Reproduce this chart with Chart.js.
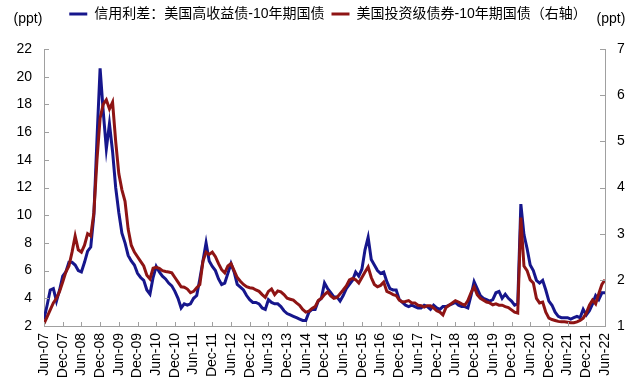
<!DOCTYPE html>
<html>
<head>
<meta charset="utf-8">
<script src="https://cdn.jsdelivr.net/npm/chart.js@4.4.1/dist/chart.umd.min.js"></script>
<style>
html,body{margin:0;padding:0;background:#fff;}
#wrap{position:relative;width:640px;height:387px;}
</style>
</head>
<body>
<div id="wrap"><canvas id="c" width="640" height="387"></canvas></div>
<script>
// x tick labels every 6 months from Jun-07 to Jun-22
const xTickLabels = ['Jun-07','Dec-07','Jun-08','Dec-08','Jun-09','Dec-09','Jun-10','Dec-10','Jun-11','Dec-11',
  'Jun-12','Dec-12','Jun-13','Dec-13','Jun-14','Dec-14','Jun-15','Dec-15','Jun-16','Dec-16',
  'Jun-17','Dec-17','Jun-18','Dec-18','Jun-19','Dec-19','Jun-20','Dec-20','Jun-21','Dec-21','Jun-22'];

const seriesNames = ['信用利差：美国高收益债-10年期国债', '美国投资级债券-10年期国债（右轴）'];

// Monthly values, month 0 = Jun-07 ... month 180 = Jun-22 (ppt)
const hyValues = [
  2.5, 3.5, 4.6, 4.7, 3.8, 4.6, 5.6, 5.9, 6.6, 6.6,
  6.4, 6.0, 5.9, 6.6, 7.4, 7.7, 10.0, 15.5, 20.6, 17.5,
  14.8, 16.6, 14.6, 12.0, 10.2, 8.7, 8.0, 7.1, 6.7, 6.4,
  5.8, 5.5, 5.3, 4.6, 4.3, 5.5, 6.3, 5.9, 5.6, 5.4,
  5.1, 4.9, 4.5, 4.0, 3.3, 3.6, 3.5, 3.6, 4.0, 4.2,
  5.4, 6.7, 8.0, 6.7, 6.3, 6.0, 5.4, 5.0, 5.1, 5.8,
  6.5, 5.9, 5.0, 4.8, 4.6, 4.2, 3.9, 3.7, 3.7, 3.6,
  3.3, 3.2, 3.9, 3.7, 3.6, 3.6, 3.4, 3.1, 2.9, 2.8,
  2.7, 2.6, 2.5, 2.4, 2.4, 3.0, 3.2, 3.2, 3.8, 4.0,
  5.1, 4.7, 4.4, 4.1, 4.1, 3.8, 4.2, 4.7, 5.0, 5.3,
  5.9, 5.6, 6.1, 7.5, 8.4, 6.8, 6.4, 6.0, 5.8, 5.9,
  5.2, 4.7, 4.6, 4.6, 3.9, 3.7, 3.5, 3.4, 3.5, 3.4,
  3.3, 3.3, 3.5, 3.4, 3.2, 3.5, 3.3, 3.2, 3.4, 3.4,
  3.5, 3.6, 3.7, 3.5, 3.4, 3.4, 3.3, 4.2, 5.2, 4.7,
  4.2, 4.0, 3.9, 3.8, 3.9, 4.4, 4.5, 4.0, 4.3, 4.0,
  3.8, 3.5, 3.6, 10.8, 8.6, 7.6, 6.4, 6.0, 5.3, 5.1,
  5.3, 4.6, 3.8, 3.5, 3.0, 2.7, 2.6, 2.6, 2.6, 2.5,
  2.6, 2.7, 2.6, 3.2, 2.8, 3.1, 3.6, 4.2, 3.9, 4.4,
  4.4
];

const igValues = [
  1.05, 1.2, 1.35, 1.5, 1.6, 1.75, 1.95, 2.17, 2.3, 2.6,
  2.95, 2.65, 2.6, 2.75, 3.0, 2.95, 3.45, 4.6, 5.5, 5.8,
  5.9, 5.7, 5.85, 5.0, 4.3, 3.95, 3.7, 3.1, 2.75, 2.6,
  2.5, 2.4, 2.3, 2.1, 2.02, 2.25, 2.27, 2.25, 2.2, 2.18,
  2.17, 2.15, 2.05, 1.95, 1.85, 1.84, 1.8, 1.72, 1.75, 1.83,
  1.9, 2.4, 2.6, 2.55, 2.6, 2.5, 2.35, 2.22, 2.15, 2.3,
  2.35, 2.2, 2.05, 1.97, 1.9, 1.85, 1.83, 1.82, 1.78, 1.75,
  1.68, 1.62, 1.75, 1.8, 1.68, 1.76, 1.74, 1.68, 1.6, 1.58,
  1.56, 1.5, 1.45, 1.36, 1.3, 1.32, 1.38, 1.42, 1.55, 1.6,
  1.68, 1.74, 1.65, 1.6, 1.62, 1.7, 1.78, 1.87, 2.0, 2.03,
  2.0, 1.93, 2.05, 2.17, 2.28, 2.05, 1.9, 1.85, 1.88, 1.95,
  1.75, 1.72, 1.68, 1.66, 1.56, 1.52, 1.53, 1.55, 1.5, 1.5,
  1.45, 1.44, 1.41, 1.44, 1.44, 1.39, 1.33, 1.3, 1.24, 1.4,
  1.45, 1.5, 1.55, 1.52, 1.48, 1.45, 1.55, 1.72, 1.85, 1.68,
  1.6, 1.56, 1.52, 1.5, 1.46, 1.48, 1.45, 1.45, 1.42, 1.4,
  1.35, 1.3, 1.28, 3.35, 2.3, 2.2, 2.0, 1.93, 1.6, 1.5,
  1.52, 1.3, 1.17, 1.14, 1.12, 1.1, 1.09, 1.09, 1.08, 1.07,
  1.07, 1.09, 1.12, 1.17, 1.28, 1.45, 1.56, 1.48, 1.7, 1.9,
  2.0
];

const BLUE = '#16168c';
const RED = '#8e1414';
const AXIS = '#a0a0a0';
const FONT = '"Liberation Sans", Arial, "Noto Sans CJK SC", sans-serif';
const CJK = '"Liberation Sans", "Noto Sans CJK SC", sans-serif';
const LEGEND_H = 49;
const LEGEND_SHIFT = 8;

const legendSizer = {
  id: 'legendSizer',
  beforeLayout(chart) {
    const lg = chart.legend;
    if (lg && !lg.__sized) {
      const fit = lg.fit;
      lg.fit = function () { fit.call(this); this.height = LEGEND_H; };
      lg.__sized = true;
    }
  },
  afterLayout(chart) {
    const lg = chart.legend;
    if (lg) { lg.left += LEGEND_SHIFT; lg.right += LEGEND_SHIFT; }
  }
};

const innerTicks = {
  id: 'innerTicks',
  afterDraw(chart) {
    const ctx = chart.ctx;
    const {x, y, y1} = chart.scales;
    ctx.save();
    ctx.strokeStyle = AXIS;
    ctx.lineWidth = 1;
    ctx.beginPath();
    x.ticks.forEach(t => {
      const px = Math.round(x.getPixelForValue(t.value)) + 0.5;
      ctx.moveTo(px, x.top); ctx.lineTo(px, x.top - 4);
    });
    y.ticks.forEach(t => {
      const py = Math.round(y.getPixelForValue(t.value)) + 0.5;
      ctx.moveTo(y.right, py); ctx.lineTo(y.right + 5, py);
    });
    y1.ticks.forEach(t => {
      const py = Math.round(y1.getPixelForValue(t.value)) + 0.5;
      ctx.moveTo(y1.left, py); ctx.lineTo(y1.left - 5, py);
    });
    ctx.stroke();
    // unit labels
    ctx.fillStyle = '#000';
    ctx.font = '14px ' + CJK;
    ctx.textBaseline = 'middle';
    ctx.textAlign = 'center';
    ctx.fillText('(ppt)', 28, 19);
    ctx.fillText('(ppt)', 611, 19);
    ctx.restore();
  }
};

const tickFont = {family: FONT, size: 14};

new Chart(document.getElementById('c'), {
  type: 'line',
  data: {
    datasets: [
      {
        label: seriesNames[0],
        data: hyValues.map((v, i) => ({x: i, y: v})),
        borderColor: BLUE, backgroundColor: BLUE,
        borderWidth: 3, pointRadius: 0, tension: 0,
        yAxisID: 'y', order: 2
      },
      {
        label: seriesNames[1],
        data: igValues.map((v, i) => ({x: i, y: v})),
        borderColor: RED, backgroundColor: RED,
        borderWidth: 3, pointRadius: 0, tension: 0,
        yAxisID: 'y1', order: 1
      }
    ]
  },
  options: {
    responsive: false,
    animation: false,
    devicePixelRatio: 1,
    layout: {padding: 0},
    plugins: {
      legend: {
        display: true,
        position: 'top',
        align: 'center',
        labels: {
          boxWidth: 18, boxHeight: 3, padding: 7,
          color: '#000',
          font: {family: CJK, size: 14},
          generateLabels: (chart) => chart.data.datasets.map((ds, i) => ({
            text: ds.label, fillStyle: ds.borderColor, strokeStyle: ds.borderColor,
            lineWidth: 0, hidden: false, datasetIndex: i, fontColor: '#000'
          }))
        }
      },
      tooltip: {enabled: false}
    },
    scales: {
      x: {
        type: 'linear', min: 0, max: 180,
        ticks: {
          stepSize: 6, autoSkip: false, maxRotation: 90, minRotation: 90,
          padding: 7, color: '#000', font: tickFont,
          callback: (v) => (v % 6 === 0 ? xTickLabels[v / 6] : '')
        },
        grid: {display: true, drawOnChartArea: false, drawTicks: false},
        border: {display: true, color: AXIS, width: 1},
        afterFit: (s) => { s.height = 61; }
      },
      y: {
        position: 'left', min: 2, max: 22,
        ticks: {stepSize: 2, padding: 12, color: '#000', font: tickFont},
        grid: {display: true, drawOnChartArea: false, drawTicks: false},
        border: {display: true, color: AXIS, width: 1},
        afterFit: (s) => { s.width = 44; }
      },
      y1: {
        position: 'right', min: 1, max: 7,
        ticks: {stepSize: 1, padding: 12, color: '#000', font: tickFont},
        grid: {display: true, drawOnChartArea: false, drawTicks: false},
        border: {display: true, color: AXIS, width: 1},
        afterFit: (s) => { s.width = 35; }
      }
    }
  },
  plugins: [legendSizer, innerTicks]
});
</script>
</body>
</html>
